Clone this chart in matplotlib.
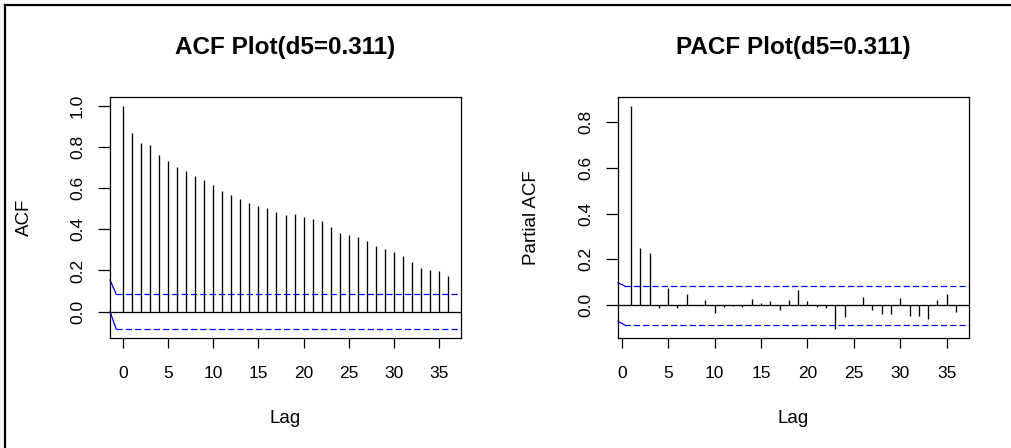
import matplotlib
matplotlib.use("Agg")
import matplotlib.pyplot as plt
from matplotlib.lines import Line2D

# ---------------- data ----------------
acf_lags = list(range(0, 37))
acf_vals = [1.000, 0.870, 0.821, 0.808, 0.762, 0.734, 0.705, 0.684, 0.661, 0.638,
            0.615, 0.587, 0.569, 0.548, 0.529, 0.512, 0.502, 0.485, 0.468, 0.473,
            0.462, 0.450, 0.439, 0.411, 0.382, 0.370, 0.361, 0.343, 0.321, 0.303,
            0.292, 0.269, 0.241, 0.214, 0.201, 0.196, 0.175]
pacf_lags = list(range(1, 37))
pacf_vals = [0.870, 0.249, 0.230, -0.012, 0.076, -0.012, 0.051, 0.003, 0.025, -0.034,
             -0.009, -0.002, -0.009, 0.029, 0.010, 0.020, -0.019, 0.025, 0.066, 0.019,
             -0.009, -0.013, -0.104, -0.053, 0.002, 0.037, -0.019, -0.037, -0.038, 0.031,
             -0.048, -0.048, -0.058, 0.025, 0.051, -0.029]
conf_limit = 0.085
titles = ["ACF Plot(d5=0.311)", "PACF Plot(d5=0.311)"]
ylabels = ["ACF", "Partial ACF"]
xlabel_text = "Lag"
xtick_vals = [0, 5, 10, 15, 20, 25, 30, 35]
acf_yticks = [0.0, 0.2, 0.4, 0.6, 0.8, 1.0]
pacf_yticks = [0.0, 0.2, 0.4, 0.6, 0.8]

# ---------------- style ----------------
plt.rcParams["font.family"] = ["Liberation Sans", "DejaVu Sans"]
plt.rcParams["lines.scale_dashes"] = False

W, H = 1012, 448
fig = plt.figure(figsize=(W / 100, H / 100), dpi=100)
fig.patch.set_facecolor("white")

def px_rect(l, t, r, b):
    return [l / W, 1 - b / H, (r - l) / W, (b - t) / H]

ax1 = fig.add_axes(px_rect(110, 97, 461, 338))
ax2 = fig.add_axes(px_rect(618, 97, 969, 338))

def r_range(vals):
    lo, hi = min(vals), max(vals)
    d = (hi - lo) * 0.04
    return lo - d, hi + d

def draw(ax, lags, vals, title, ylab, yticks, slant_up, slant_lo, ylabx):
    xlim = r_range(lags)
    ylim = r_range(list(vals) + [conf_limit, -conf_limit])
    ax.vlines(lags, 0, vals, color="black", lw=0.95)
    ax.axhline(0, color="black", lw=0.95)
    s = 0.68
    for sign, rise in ((1, slant_up), (-1, slant_lo)):
        c = sign * conf_limit
        ax.plot([xlim[0] + s, xlim[1]], [c, c], color="#0000FF", lw=0.9,
                dashes=(4.5, 2.2))
        ax.plot([xlim[0], xlim[0] + s], [c + rise, c], color="#0000FF", lw=0.9,
                clip_on=False)
    ax.set_xlim(*xlim)
    ax.set_ylim(*ylim)
    ax.set_xticks(xtick_vals)
    ax.set_xticklabels([str(v) for v in xtick_vals])
    ax.set_yticks(yticks)
    ax.set_yticklabels([f"{v:.1f}" for v in yticks])
    ax.tick_params(axis="x", direction="out", length=7.2, width=0.9,
                   labelsize=12.5, pad=13, colors="black")
    ax.tick_params(axis="y", direction="out", length=9.0, width=0.9,
                   labelsize=12.5, pad=9, colors="black", labelrotation=90)
    for lab in ax.get_yticklabels():
        lab.set_va("center")
        lab.set_ha("right")
    for sp in ax.spines.values():
        sp.set_linewidth(0.9)
        sp.set_color("black")
    ax.set_xlabel(xlabel_text, fontsize=13.5)
    ax.xaxis.set_label_coords(0.5, -0.297)
    ax.set_ylabel(ylab, fontsize=13.5)
    ax.yaxis.set_label_coords(ylabx, 0.5)
    ax.text(0.5, 1.207, title, transform=ax.transAxes, ha="center", va="center",
            fontsize=17.5, fontweight="bold")

draw(ax1, acf_lags, acf_vals, titles[0], ylabels[0], acf_yticks, 0.069, 0.085, -0.219)
draw(ax2, pacf_lags, pacf_vals, titles[1], ylabels[1], pacf_yticks, 0.013, 0.015, -0.222)

# outer frame (top and left edges only visible)
fig.add_artist(Line2D([5.5 / W, 1.0], [1 - 5.5 / H, 1 - 5.5 / H], color="black",
                      lw=1.6, transform=fig.transFigure))
fig.add_artist(Line2D([5.5 / W, 5.5 / W], [1 - 5.5 / H, 0.0], color="black",
                      lw=1.6, transform=fig.transFigure))

fig.savefig("out.png", dpi=100, facecolor="white")
